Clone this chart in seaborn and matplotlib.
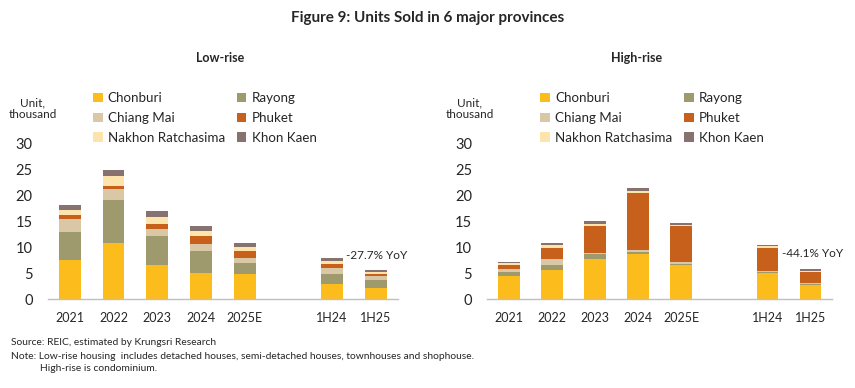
import pandas as pd
import numpy as np
import matplotlib
matplotlib.use("Agg")
import matplotlib.pyplot as plt
from matplotlib.patches import Patch
import seaborn as sns

# categories (blank slot separates annual and half-year data)
periods = ["2021", "2022", "2023", "2024", "2025E", "1H24", "1H25"]
order = ["2021", "2022", "2023", "2024", "2025E", " ", "1H24", "1H25"]
provinces = ["Chonburi", "Rayong", "Chiang Mai", "Phuket", "Nakhon Ratchasima", "Khon Kaen"]
colors = ["#FBBC1C", "#9E9A6E", "#D9C7A5", "#C6601B", "#FDE4AC", "#86736F"]

# low-rise, thousand units (bottom to top of stack)
low_chonburi = [7.6, 10.8, 6.5, 5.1, 4.8, 2.9, 2.2]
low_rayong = [5.4, 8.2, 5.6, 4.1, 2.1, 2.0, 1.4]
low_chiangmai = [2.5, 2.1, 1.4, 1.4, 1.1, 1.0, 0.8]
low_phuket = [0.7, 0.7, 1.0, 1.6, 1.2, 0.8, 0.4]
low_nakhon = [1.0, 1.8, 1.3, 1.0, 0.9, 0.7, 0.4]
low_khonkaen = [0.9, 1.2, 1.1, 0.8, 0.7, 0.5, 0.5]

# high-rise (condominium), thousand units
high_chonburi = [4.5, 5.6, 7.7, 8.6, 6.5, 5.0, 2.8]
high_rayong = [0.8, 1.0, 1.0, 0.45, 0.2, 0.3, 0.15]
high_chiangmai = [0.45, 1.1, 0.2, 0.4, 0.45, 0.2, 0.15]
high_phuket = [0.75, 2.1, 5.2, 10.95, 6.95, 4.4, 2.15]
high_nakhon = [0.45, 0.6, 0.3, 0.35, 0.2, 0.3, 0.15]
high_khonkaen = [0.25, 0.45, 0.6, 0.55, 0.4, 0.25, 0.45]

low_yoy = "-27.7% YoY"
high_yoy = "-44.1% YoY"


def build_df(series):
    df = pd.DataFrame(dict(zip(provinces, series)))
    cum = df[provinces].cumsum(axis=1)
    cum["Period"] = periods
    return cum.melt(id_vars="Period", var_name="Province", value_name="Top")


low_df = build_df([low_chonburi, low_rayong, low_chiangmai, low_phuket, low_nakhon, low_khonkaen])
high_df = build_df([high_chonburi, high_rayong, high_chiangmai, high_phuket, high_nakhon, high_khonkaen])

sns.set_style("white")
plt.rcParams["font.family"] = ["Lato", "DejaVu Sans"]
text_color = "#262626"

fig = plt.figure(figsize=(8.55, 3.88), dpi=100)
ax_low = fig.add_axes([0.056, 0.229, 0.409, 0.402])
ax_high = fig.add_axes([0.570, 0.229, 0.403, 0.402])


def draw_panel(ax, df, yoy, yoy_y):
    # draw cumulative totals from the top of the stack down
    for prov, col in reversed(list(zip(provinces, colors))):
        sub = df[df["Province"] == prov]
        sns.barplot(data=sub, x="Period", y="Top", order=order, color=col,
                    width=0.5, linewidth=0, saturation=1, ax=ax, errorbar=None)
    ax.set_ylim(0, 30)
    ax.set_xlim(-0.5, 7.5)
    ax.set_yticks([0, 5, 10, 15, 20, 25, 30])
    ax.set_xlabel("")
    ax.set_ylabel("")
    for s in ["top", "right", "left"]:
        ax.spines[s].set_visible(False)
    ax.spines["bottom"].set_color("#BFBFBF")
    ax.spines["bottom"].set_linewidth(1.0)
    ax.tick_params(axis="y", length=0, labelsize=10.5, pad=11, colors=text_color)
    ax.tick_params(axis="x", length=0, labelsize=9, pad=9, colors=text_color)
    ax.text(6.33, yoy_y, yoy, fontsize=8.5, color=text_color, va="center", ha="left")


draw_panel(ax_low, low_df, low_yoy, 8.4)
draw_panel(ax_high, high_df, high_yoy, 8.7)

# legends: first column Chonburi/Chiang Mai/Nakhon, second Rayong/Phuket/Khon Kaen
handles = [Patch(facecolor=c, edgecolor="none") for c in colors]
leg_order = [0, 2, 4, 1, 3, 5]
for x0 in [0.109, 0.632]:
    fig.legend([handles[i] for i in leg_order], [provinces[i] for i in leg_order],
               ncol=2, loc="upper left", bbox_to_anchor=(x0, 0.762), frameon=False,
               fontsize=9.6, handlelength=0.7, handleheight=0.7, handletextpad=0.4,
               columnspacing=0.9, labelspacing=0.58, borderaxespad=0, borderpad=0,
               labelcolor=text_color)

fig.text(0.038, 0.72, "Unit,\nthousand", ha="center", va="center", fontsize=8.5,
         color=text_color, linespacing=1.15)
fig.text(0.549, 0.72, "Unit,\nthousand", ha="center", va="center", fontsize=8.5,
         color=text_color, linespacing=1.15)

fig.text(0.5, 0.953, "Figure 9: Units Sold in 6 major provinces", ha="center", va="center",
         fontsize=11, fontweight="bold", color=text_color)
fig.text(0.258, 0.85, "Low-rise", ha="center", va="center", fontsize=9,
         fontweight="bold", color=text_color)
fig.text(0.745, 0.85, "High-rise", ha="center", va="center", fontsize=9,
         fontweight="bold", color=text_color)

fig.text(0.013, 0.116, "Source: REIC, estimated by Krungsri Research", fontsize=7.4,
         va="center", color=text_color)
fig.text(0.013, 0.082, "Note: Low-rise housing  includes detached houses, semi-detached houses, "
         "townhouses and shophouse.", fontsize=7.4, va="center", color=text_color)
fig.text(0.047, 0.049, "High-rise is condominium.", fontsize=7.4, va="center", color=text_color)

fig.savefig("out.png", dpi=100)
